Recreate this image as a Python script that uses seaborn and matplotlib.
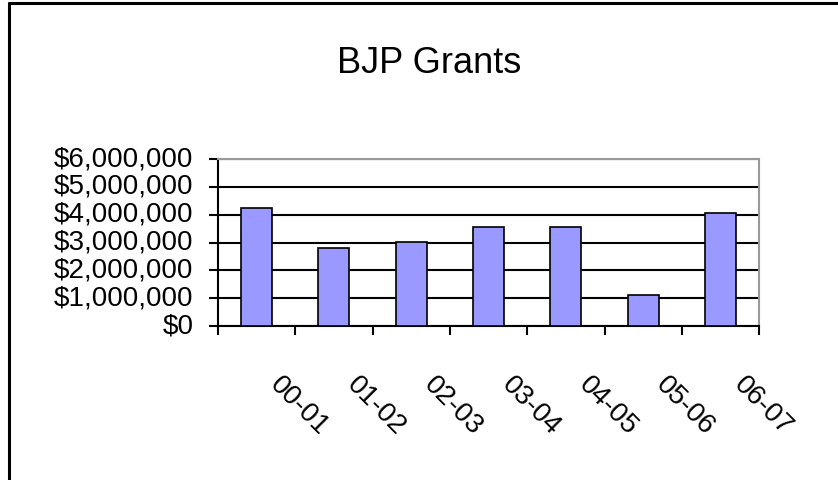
import pandas as pd
import seaborn as sns
import matplotlib.pyplot as plt
import matplotlib.transforms as mtransforms
from matplotlib.lines import Line2D
from matplotlib.ticker import FuncFormatter

years = ["00-01", "01-02", "02-03", "03-04", "04-05", "05-06", "06-07"]
grants = [4230000, 2800000, 3040000, 3560000, 3560000, 1100000, 4080000]
y_ticks = [0, 1000000, 2000000, 3000000, 4000000, 5000000, 6000000]

sns.set_style("white")
plt.rcParams['font.family'] = ['Liberation Sans', 'DejaVu Sans']
plt.rcParams['text.color'] = 'black'
plt.rcParams['xtick.color'] = 'black'
plt.rcParams['ytick.color'] = 'black'

df = pd.DataFrame({"year": years, "grant": grants})

fig = plt.figure(figsize=(8.38, 4.81), dpi=100)
ax = fig.add_axes([0.260, 0.320, 0.646, 0.347])

sns.barplot(data=df, x="year", y="grant", color="#9999ff", saturation=1,
            width=0.4, edgecolor="black", linewidth=1.2, ax=ax, zorder=3)

ax.set_ylim(0, 6000000)
ax.set_xlim(-0.5, len(years) - 0.5)
ax.set_yticks(y_ticks)
ax.yaxis.set_major_formatter(FuncFormatter(lambda v, p: f"${int(v):,}"))
ax.grid(axis="y", color="black", linewidth=1.5, zorder=0)
ax.set_axisbelow(True)
ax.set_xlabel("")
ax.set_ylabel("")

for side in ["left", "bottom"]:
    ax.spines[side].set_color("black")
    ax.spines[side].set_linewidth(1.5)
for side in ["top", "right"]:
    ax.spines[side].set_color("#999999")
    ax.spines[side].set_linewidth(1.5)

ax.tick_params(axis="y", direction="out", length=6.5, width=1.5, pad=11, labelsize=20,
               left=True, colors="black")
ax.tick_params(axis="x", which="major", length=0, pad=0, labelsize=20, colors="black")
ax.set_xticks([i - 0.5 for i in range(len(years) + 1)], minor=True)
ax.tick_params(axis="x", which="minor", direction="out", length=6.5, width=1.5,
               bottom=True, colors="black")

off = mtransforms.ScaledTranslation(0.26, -0.45, fig.dpi_scale_trans)
for lab in ax.get_xticklabels():
    lab.set_rotation(-45)
    lab.set_rotation_mode("anchor")
    lab.set_ha("left")
    lab.set_va("top")
    lab.set_transform(lab.get_transform() + off)

yoff = mtransforms.ScaledTranslation(0, 0.04, fig.dpi_scale_trans)
for lab in ax.get_yticklabels():
    lab.set_transform(lab.get_transform() + yoff)

fig.text(0.512, 0.869, "BJP Grants", ha="center", va="center", fontsize=26, color="black")

# chart frame: left and top edges only
fig.add_artist(Line2D([9 / 838, 9 / 838], [0, 1 - 4 / 481], color="black", linewidth=2.2))
fig.add_artist(Line2D([9 / 838, 1], [1 - 4 / 481, 1 - 4 / 481], color="black", linewidth=2.2))

fig.savefig("out.png", dpi=100)
